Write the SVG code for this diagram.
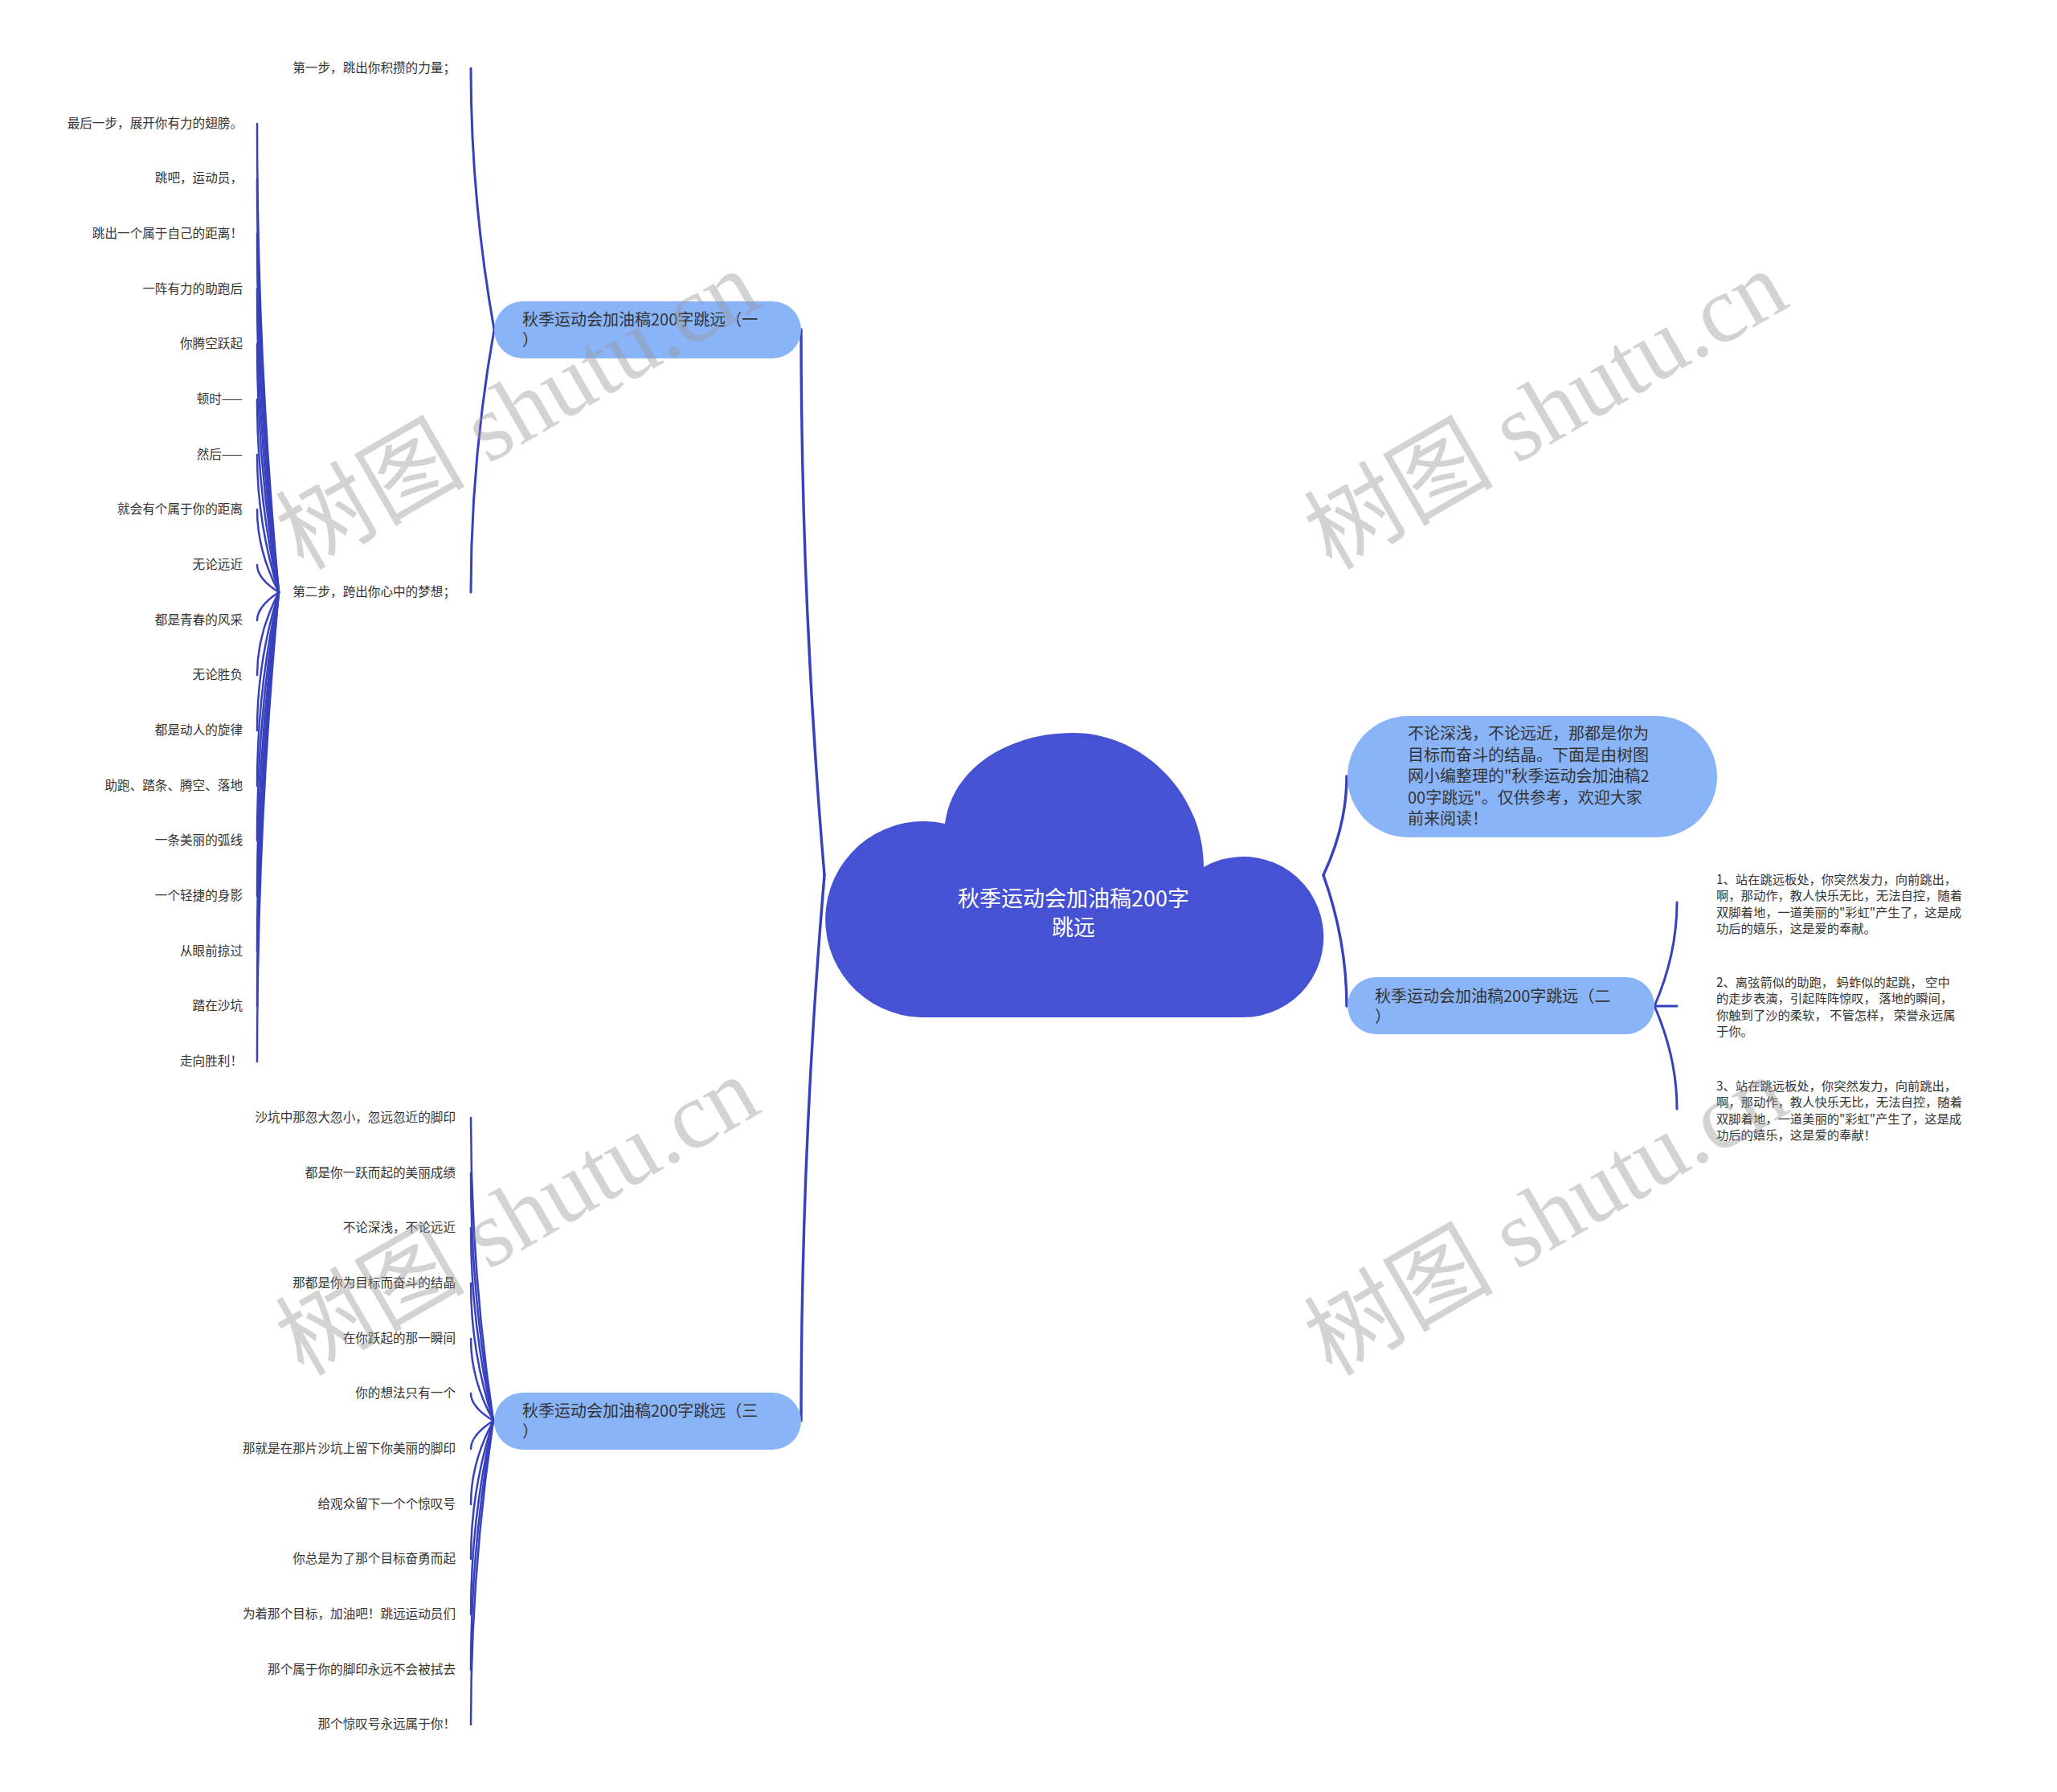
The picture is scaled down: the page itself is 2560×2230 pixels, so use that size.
<svg xmlns="http://www.w3.org/2000/svg" width="2560" height="2230" viewBox="0 0 2560 2230">
<style>
.t{font-family:"Noto Sans CJK SC","Microsoft YaHei",sans-serif;fill:#333}
.lf{font-size:15.6px;text-anchor:end}
.rl{font-size:15.3px}
.nt{font-size:20px}
.node{fill:#8ab4f8}
.c{fill:none;stroke:#3741be;stroke-linecap:round}
.c1{stroke-width:3.4}
.c2{stroke-width:3}
.c3{stroke-width:2.5}
.wm{font-family:"Liberation Serif","Noto Sans CJK SC",serif;font-size:118px;fill:#999;opacity:.42;text-anchor:middle}
</style>
<rect width="2560" height="2230" fill="#ffffff"/>
<g id="connectors">
<path class="c c1" d="M1026 1089 Q997 749.5 997 410"/>
<path class="c c1" d="M1026 1089 Q997 1428.5 997 1768"/>
<path class="c c1" d="M1647 1089 Q1676 1027.5 1676 966"/>
<path class="c c1" d="M1647 1089 Q1676 1170.5 1676 1252"/>
<path class="c c2" d="M615 410 Q586 247.5 586 85"/>
<path class="c c2" d="M615 410 Q586 573.5 586 737"/>
<path class="c c2" d="M2059 1252 Q2087 1187.5 2087 1123"/>
<path class="c c2" d="M2059 1252 L2087 1252"/>
<path class="c c2" d="M2059 1252 Q2087 1316 2087 1380"/>
<path class="c c3" d="M347 737 Q320 445.5 320 154"/>
<path class="c c3" d="M347 737 Q320 479.5 320 222"/>
<path class="c c3" d="M347 737 Q320 514 320 291"/>
<path class="c c3" d="M347 737 Q320 548.5 320 360"/>
<path class="c c3" d="M347 737 Q320 582.5 320 428"/>
<path class="c c3" d="M347 737 Q320 617 320 497"/>
<path class="c c3" d="M347 737 Q320 651.5 320 566"/>
<path class="c c3" d="M347 737 Q320 685.5 320 634"/>
<path class="c c3" d="M347 737 Q320 720 320 703"/>
<path class="c c3" d="M347 737 Q320 754.5 320 772"/>
<path class="c c3" d="M347 737 Q320 788.5 320 840"/>
<path class="c c3" d="M347 737 Q320 823 320 909"/>
<path class="c c3" d="M347 737 Q320 857.5 320 978"/>
<path class="c c3" d="M347 737 Q320 891.5 320 1046"/>
<path class="c c3" d="M347 737 Q320 926 320 1115"/>
<path class="c c3" d="M347 737 Q320 960.5 320 1184"/>
<path class="c c3" d="M347 737 Q320 994.5 320 1252"/>
<path class="c c3" d="M347 737 Q320 1029 320 1321"/>
<path class="c c3" d="M614 1768 Q586 1579.5 586 1391"/>
<path class="c c3" d="M614 1768 Q586 1614 586 1460"/>
<path class="c c3" d="M614 1768 Q586 1648 586 1528"/>
<path class="c c3" d="M614 1768 Q586 1682.5 586 1597"/>
<path class="c c3" d="M614 1768 Q586 1717 586 1666"/>
<path class="c c3" d="M614 1768 Q586 1751 586 1734"/>
<path class="c c3" d="M614 1768 Q586 1785.5 586 1803"/>
<path class="c c3" d="M614 1768 Q586 1820 586 1872"/>
<path class="c c3" d="M614 1768 Q586 1854 586 1940"/>
<path class="c c3" d="M614 1768 Q586 1888.5 586 2009"/>
<path class="c c3" d="M614 1768 Q586 1923 586 2078"/>
<path class="c c3" d="M614 1768 Q586 1957 586 2146"/>
</g>
<g id="root">
<path fill="#4652d4" d="M1147 1266 A122 122 0 1 1 1176 1025 C1185 955 1255 912 1336 912 C1420 912 1498 985 1498 1079 A100 100 0 1 1 1547 1266 Z"/>
<text class="t" style="fill:#ffffff;font-size:27px" text-anchor="middle"><tspan x="1336" y="1127.5">秋季运动会加油稿200字</tspan><tspan x="1336" y="1163.5">跳远</tspan></text>
</g>
<g id="intro">
<rect class="node" x="1677" y="891" width="460" height="151" rx="75.5"/>
<text class="t nt"><tspan x="1752" y="920">不论深浅，不论远近，那都是你为</tspan><tspan x="1752" y="946.5">目标而奋斗的结晶。下面是由树图</tspan><tspan x="1752" y="973">网小编整理的"秋季运动会加油稿2</tspan><tspan x="1752" y="999.5">00字跳远"。仅供参考，欢迎大家</tspan><tspan x="1752" y="1026">前来阅读！</tspan></text>
</g>
<g id="n1">
<rect class="node" x="615" y="375" width="382" height="71" rx="35.5"/>
<text class="t nt"><tspan x="650" y="405">秋季运动会加油稿200字跳远（一</tspan><tspan x="650" y="430">）</tspan></text>
</g>
<g id="n2">
<rect class="node" x="1677" y="1216" width="382" height="71" rx="35.5"/>
<text class="t nt"><tspan x="1711" y="1246.5">秋季运动会加油稿200字跳远（二</tspan><tspan x="1711" y="1271.5">）</tspan></text>
</g>
<g id="n3">
<rect class="node" x="615" y="1733" width="382" height="71" rx="35.5"/>
<text class="t nt"><tspan x="650" y="1763">秋季运动会加油稿200字跳远（三</tspan><tspan x="650" y="1788">）</tspan></text>
</g>
<g id="s1"><text class="t lf" x="567" y="90">第一步，跳出你积攒的力量；</text></g>
<g id="s2"><text class="t lf" x="567" y="742">第二步，跨出你心中的梦想；</text></g>
<g id="s2-leaves">
<g id="a0"><text class="t lf" x="302" y="159">最后一步，展开你有力的翅膀。</text></g>
<g id="a1"><text class="t lf" x="302" y="227">跳吧，运动员，</text></g>
<g id="a2"><text class="t lf" x="302" y="296">跳出一个属于自己的距离！</text></g>
<g id="a3"><text class="t lf" x="302" y="365">一阵有力的助跑后</text></g>
<g id="a4"><text class="t lf" x="302" y="433">你腾空跃起</text></g>
<g id="a5"><text class="t lf" x="302" y="502">顿时——</text></g>
<g id="a6"><text class="t lf" x="302" y="571">然后——</text></g>
<g id="a7"><text class="t lf" x="302" y="639">就会有个属于你的距离</text></g>
<g id="a8"><text class="t lf" x="302" y="708">无论远近</text></g>
<g id="a9"><text class="t lf" x="302" y="777">都是青春的风采</text></g>
<g id="a10"><text class="t lf" x="302" y="845">无论胜负</text></g>
<g id="a11"><text class="t lf" x="302" y="914">都是动人的旋律</text></g>
<g id="a12"><text class="t lf" x="302" y="983">助跑、踏条、腾空、落地</text></g>
<g id="a13"><text class="t lf" x="302" y="1051">一条美丽的弧线</text></g>
<g id="a14"><text class="t lf" x="302" y="1120">一个轻捷的身影</text></g>
<g id="a15"><text class="t lf" x="302" y="1189">从眼前掠过</text></g>
<g id="a16"><text class="t lf" x="302" y="1257">踏在沙坑</text></g>
<g id="a17"><text class="t lf" x="302" y="1326">走向胜利！</text></g>
</g>
<g id="n3-leaves">
<g id="b0"><text class="t lf" x="567" y="1396">沙坑中那忽大忽小，忽远忽近的脚印</text></g>
<g id="b1"><text class="t lf" x="567" y="1465">都是你一跃而起的美丽成绩</text></g>
<g id="b2"><text class="t lf" x="567" y="1533">不论深浅，不论远近</text></g>
<g id="b3"><text class="t lf" x="567" y="1602">那都是你为目标而奋斗的结晶</text></g>
<g id="b4"><text class="t lf" x="567" y="1671">在你跃起的那一瞬间</text></g>
<g id="b5"><text class="t lf" x="567" y="1739">你的想法只有一个</text></g>
<g id="b6"><text class="t lf" x="567" y="1808">那就是在那片沙坑上留下你美丽的脚印</text></g>
<g id="b7"><text class="t lf" x="567" y="1877">给观众留下一个个惊叹号</text></g>
<g id="b8"><text class="t lf" x="567" y="1945">你总是为了那个目标奋勇而起</text></g>
<g id="b9"><text class="t lf" x="567" y="2014">为着那个目标，加油吧！跳远运动员们</text></g>
<g id="b10"><text class="t lf" x="567" y="2083">那个属于你的脚印永远不会被拭去</text></g>
<g id="b11"><text class="t lf" x="567" y="2151">那个惊叹号永远属于你！</text></g>
</g>
<g id="n2-leaves">
<g id="c0"><text class="t rl"><tspan x="2136" y="1099.5">1、站在跳远板处，你突然发力，向前跳出，</tspan><tspan x="2136" y="1120">啊，那动作，教人快乐无比，无法自控，随着</tspan><tspan x="2136" y="1140.5">双脚着地，一道美丽的"彩虹"产生了，这是成</tspan><tspan x="2136" y="1161">功后的嬉乐，这是爱的奉献。</tspan></text></g>
<g id="c1"><text class="t rl"><tspan x="2136" y="1227.5">2、离弦箭似的助跑， 蚂蚱似的起跳， 空中</tspan><tspan x="2136" y="1248">的走步表演，引起阵阵惊叹， 落地的瞬间，</tspan><tspan x="2136" y="1268.5">你触到了沙的柔软， 不管怎样， 荣誉永远属</tspan><tspan x="2136" y="1289">于你。</tspan></text></g>
<g id="c2"><text class="t rl"><tspan x="2136" y="1356.5">3、站在跳远板处，你突然发力，向前跳出，</tspan><tspan x="2136" y="1377">啊，那动作，教人快乐无比，无法自控，随着</tspan><tspan x="2136" y="1397.5">双脚着地，一道美丽的"彩虹"产生了，这是成</tspan><tspan x="2136" y="1418">功后的嬉乐，这是爱的奉献！</tspan></text></g>
</g>
<g id="watermarks">
<text class="wm" transform="translate(645 512) rotate(-30)" x="0" y="38">树图 shutu.cn</text>
<text class="wm" transform="translate(1925 512) rotate(-30)" x="0" y="38">树图 shutu.cn</text>
<text class="wm" transform="translate(645 1515) rotate(-30)" x="0" y="38">树图 shutu.cn</text>
<text class="wm" transform="translate(1925 1515) rotate(-30)" x="0" y="38">树图 shutu.cn</text>
</g>
</svg>
